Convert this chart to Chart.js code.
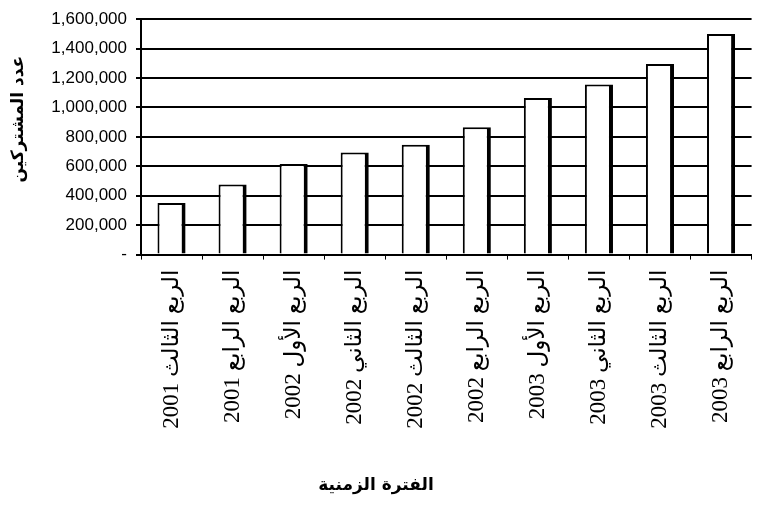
<!DOCTYPE html>
<html lang="ar">
<head>
<meta charset="utf-8">
<title>عدد المشتركين</title>
<script src="https://cdn.jsdelivr.net/npm/chart.js@4.4.1/dist/chart.umd.min.js"></script>
<style>
    html, body { margin: 0; padding: 0; background: #fff; }
    #wrap { width: 759px; height: 506px; position: relative; }
</style>
</head>
<body>
<div id="wrap"><canvas id="subscribersChart" dir="rtl"></canvas></div>
<script>
// الفترات (ربع سنوية)
const quarters = [
    'الربع الثالث 2001',
    'الربع الرابع 2001',
    'الربع الأول 2002',
    'الربع الثاني 2002',
    'الربع الثالث 2002',
    'الربع الرابع 2002',
    'الربع الأول 2003',
    'الربع الثاني 2003',
    'الربع الثالث 2003',
    'الربع الرابع 2003'
];

// عدد المشتركين في نهاية كل ربع
const subscribers = [350000, 476000, 615000, 694000, 747000, 866000, 1064000, 1157000, 1296000, 1500000];

// تدريج المحور العمودي
const yTicks = [0, 200000, 400000, 600000, 800000, 1000000, 1200000, 1400000, 1600000];
const yTickLabels = ['-', '200,000', '400,000', '600,000', '800,000', '1,000,000', '1,200,000', '1,400,000', '1,600,000'];

const yTitle = 'عدد المشتركين';
const xTitle = 'الفترة الزمنية';

// عنوان المحور العمودي يرسم يدويا فوق منتصف المحور قليلا
const yTitlePlugin = {
    id: 'yTitle',
    afterDraw(chart) {
        const { ctx, chartArea } = chart;
        ctx.save();
        ctx.translate(19, chartArea.top + 100);
        ctx.rotate(-Math.PI / 2);
        ctx.font = 'bold 17px "DejaVu Sans"';
        ctx.fillStyle = '#000';
        ctx.textAlign = 'center';
        ctx.textBaseline = 'middle';
        ctx.fillText(yTitle, 0, 0);
        ctx.restore();
    }
};

new Chart(document.getElementById('subscribersChart'), {
    type: 'bar',
    data: {
        labels: quarters,
        datasets: [{
            data: subscribers,
            backgroundColor: '#fff',
            borderColor: '#000',
            borderWidth: { top: 2, left: 2, right: 4, bottom: 0 },
            borderSkipped: false,
            barPercentage: 0.46,
            categoryPercentage: 1
        }]
    },
    options: {
        responsive: true,
        maintainAspectRatio: false,
        animation: false,
        layout: { padding: { top: 15, right: 7, left: 0, bottom: 0 } },
        plugins: {
            legend: { display: false },
            tooltip: { enabled: false },
            title: {
                display: true,
                text: xTitle,
                position: 'bottom',
                color: '#000',
                font: { family: '"DejaVu Sans"', size: 17, weight: 'bold' },
                padding: { top: 8, bottom: 10 }
            }
        },
        scales: {
            x: {
                grid: {
                    offset: true,
                    drawOnChartArea: false,
                    drawTicks: true,
                    tickLength: 5,
                    color: '#000',
                    lineWidth: 1
                },
                border: { display: true, color: '#000', width: 2 },
                ticks: {
                    autoSkip: false,
                    maxRotation: 90,
                    minRotation: 90,
                    padding: 10,
                    color: '#000',
                    font: { family: '"Liberation Serif", "DejaVu Sans", serif', size: 23 }
                },
                afterFit(scale) { scale.height = 213; }
            },
            y: {
                min: 0,
                max: 1600000,
                afterBuildTicks(scale) {
                    scale.ticks = yTicks.map(v => ({ value: v }));
                },
                grid: {
                    color: '#000',
                    lineWidth: 2,
                    tickLength: 5
                },
                border: { display: true, color: '#000', width: 2 },
                ticks: {
                    padding: 9,
                    color: '#000',
                    font: { family: '"Liberation Sans", Arial, sans-serif', size: 17 },
                    callback: (value, index) => yTickLabels[index]
                },
                afterFit(scale) { scale.width = 141; }
            }
        }
    },
    plugins: [yTitlePlugin]
});
</script>
</body>
</html>
